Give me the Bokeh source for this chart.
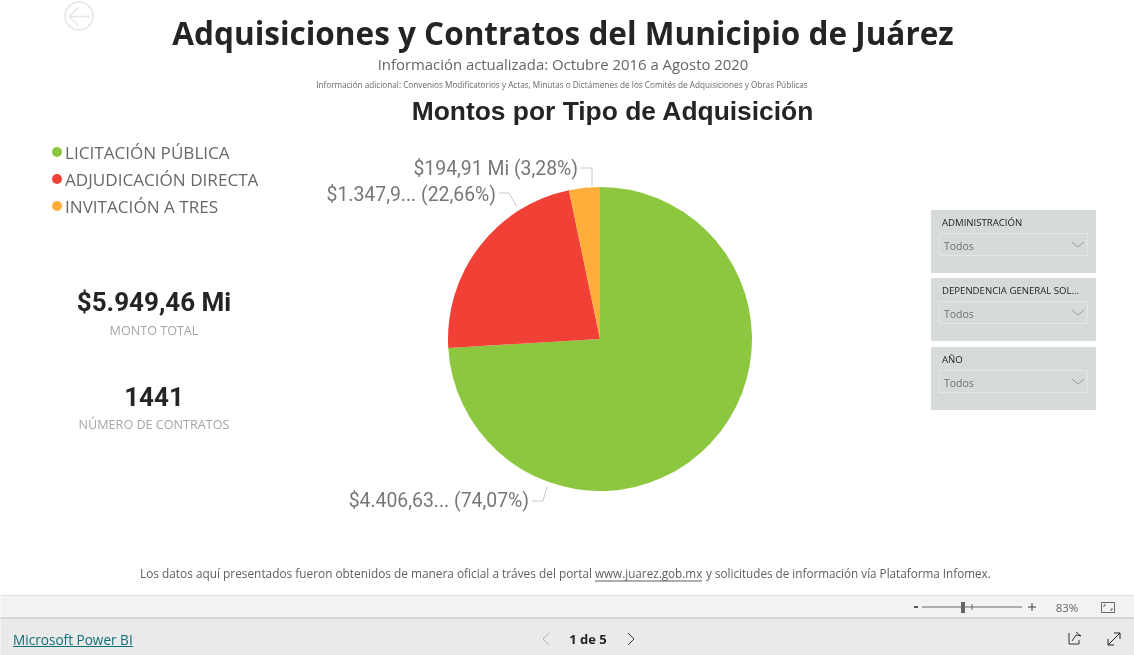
from math import pi
from bokeh.plotting import figure
from bokeh.core.properties import value
from bokeh.embed import file_html
from bokeh.resources import INLINE

W, H = 1134, 655

categories = ["LICITACIÓN PÚBLICA", "ADJUDICACIÓN DIRECTA", "INVITACIÓN A TRES"]
amounts = [4406.63, 1347.92, 194.91]
colors = ["#8DC63F", "#F14136", "#FFAD3B"]
pie_labels = ["$4.406,63... (74,07%)", "$1.347,9... (22,66%)", "$194,91 Mi (3,28%)"]
kpi_values = ["$5.949,46 Mi", "1441"]
kpi_names = ["MONTO TOTAL", "NÚMERO DE CONTRATOS"]
slicers = ["ADMINISTRACIÓN", "DEPENDENCIA GENERAL SOL...", "AÑO"]

p = figure(width=W, height=H, x_range=(0.5, W + 0.5), y_range=(-0.5, H - 0.5), output_backend="svg",
           toolbar_location=None, min_border=0, outline_line_color=None,
           background_fill_color="white", border_fill_color="white",
           styles={"position": "fixed", "left": "0", "top": "0"})
p.axis.visible = False
p.grid.visible = False


def Y(y):
    return H - y


def text(x, y, s, size, color, font="Open Sans", bold=False, align="left"):
    p.text([x], [Y(y)], text=[s], text_font=value(font), text_font_size=f"{size}px",
           text_color=color, text_align=align, text_baseline="middle",
           text_font_style="bold" if bold else "normal")


def line(xs, ys, color, width=1.0, alpha=1.0):
    p.line(xs, [Y(v) for v in ys], line_color=color, line_width=width, line_alpha=alpha)


def box(x0, y0, x1, y1, fill, border=None):
    p.quad(left=[x0], right=[x1], top=[Y(y0)], bottom=[Y(y1)], fill_color=fill, line_color=border)


# back button
p.scatter([79], [Y(16)], size=28, marker="circle", fill_color=None, line_color="#E6E6E6", line_width=1.5)
line([69, 90], [16.5, 16.5], "#E6E6E6", 1.5)
line([79, 69, 79], [7, 16.5, 26], "#E6E6E6", 1.5)

# titles
text(563, 32, "Adquisiciones y Contratos del Municipio de Juárez", 31.5, "#252423", "Open Sans", True, "center")
text(563, 64, "Información actualizada: Octubre 2016 a Agosto 2020", 14.9, "#666666", "Open Sans", False, "center")
text(563, 84, "Información adicional: Convenios Modificatorios y Actas, Minutas o Dictámenes  de los Comités de Adquisiciones y Obras Públicas",
     8.2, "#6A6866", "Open Sans", False, "center")
text(613, 111, "Montos por Tipo de Adquisición", 26.4, "#252423", "Liberation Sans", True, "center")

# legend
for i, (c, col) in enumerate(zip(categories, colors)):
    yy = 152 + 27 * i
    p.scatter([57], [Y(yy)], size=10, marker="circle", fill_color=col, line_color=None)
    text(65, yy + 0.5, c, 17.1, "#6A6866")

# KPI cards
for i, (v, n) in enumerate(zip(kpi_values, kpi_names)):
    yy = [302, 396][i]
    text(154, yy, v, 26, "#252423", "Roboto", True, "center")
    text(154, yy + 28.5, n, 12.6, "#A6A6A6", "Open Sans", False, "center")

# pie, clockwise from the top
total = sum(amounts)
start = pi / 2
for a, col in zip(amounts, colors):
    end = start - 2 * pi * a / total
    p.wedge(x=[600], y=[Y(339)], radius=152, start_angle=[end], end_angle=[start],
            fill_color=col, line_color=None)
    start = end

# leader lines and data labels
line([532, 543, 547], [501, 501, 487], "#C8C8C8")
line([499, 509, 517], [193, 193, 207], "#C8C8C8")
line([581, 592, 592], [168, 168, 186], "#C8C8C8")
label_pos = [(529, 500), (496, 194), (578, 168)]
for s, (x, y) in zip(pie_labels, label_pos):
    text(x, y, s, 19.4, "#777777", "Roboto", False, "right")

# slicers
for s, y0, y1 in zip(slicers, [210, 278, 347], [273, 341, 410]):
    box(931, y0, 1096, y1, "#D6DADB")
    text(942, y0 + 12, s, 9.6, "#252423")
    box(939.5, y0 + 23.5, 1087.5, y0 + 45.5, "#D6DADB", "#E3E6E6")
    text(944, y0 + 36, "Todos", 10.5, "#6F6F6F")
    line([1072, 1078, 1084], [y0 + 32, y0 + 37, y0 + 32], "#9A9EA0")

# source note
note = "Los datos aquí presentados fueron obtenidos de manera oficial a tráves del portal"
text(140, 573, note, 11.85, "#605E5C")
text(595, 573, "www.juarez.gob.mx", 11.7, "#605E5C")
line([595, 702], [581, 581], "#605E5C")
text(706, 573, "y solicitudes de información vía Plataforma Infomex.", 11.7, "#605E5C")

# status bar
box(0, 595, W + 2, 618, "#F3F3F3")
line([0, W + 2], [595.5, 595.5], "#E1E1E1")
line([0, W + 2], [618, 618], "#C8C8C8", 1.5)
box(0, 619, W + 2, H + 2, "#EAEAEA")
line([914, 918], [607, 607], "#555555", 2)
line([922, 1022], [607, 607], "#666666")
box(961, 602, 965, 613, "#666666")
line([972, 972], [604, 610], "#666666")
line([1028, 1036], [607, 607], "#555555", 1.2)
line([1032, 1032], [603, 611], "#555555", 1.2)
text(1067, 607, "83%", 11.5, "#666666", "Open Sans", False, "center")
box(1101.5, 602.5, 1114.5, 612.5, "#F3F3F3", "#666666")
line([1104, 1104, 1106], [607, 605, 605], "#666666")
line([1110, 1112, 1112], [610, 610, 608], "#666666")

# footer
text(13, 639, "Microsoft Power BI", 13.6, "#0F6F79", "Open Sans", False)
line([13, 133], [646.5, 646.5], "#0F6F79")
text(588, 638.5, "1 de 5", 13, "#252423", "Open Sans", True, "center")
line([549, 543, 549], [633, 639, 645], "#B5B5B5")
line([628, 634, 628], [633, 639, 645], "#333333")
line([1069, 1069, 1079, 1079], [633, 644, 644, 640], "#333333")
line([1072, 1076, 1081, 1076], [641, 635, 636, 632], "#333333")
line([1108, 1120], [645, 633], "#222222")
line([1114, 1120, 1120], [633, 633, 639], "#222222")
line([1108, 1108, 1114], [639, 645, 645], "#222222")

open("out.html", "w").write(file_html(p, INLINE))
